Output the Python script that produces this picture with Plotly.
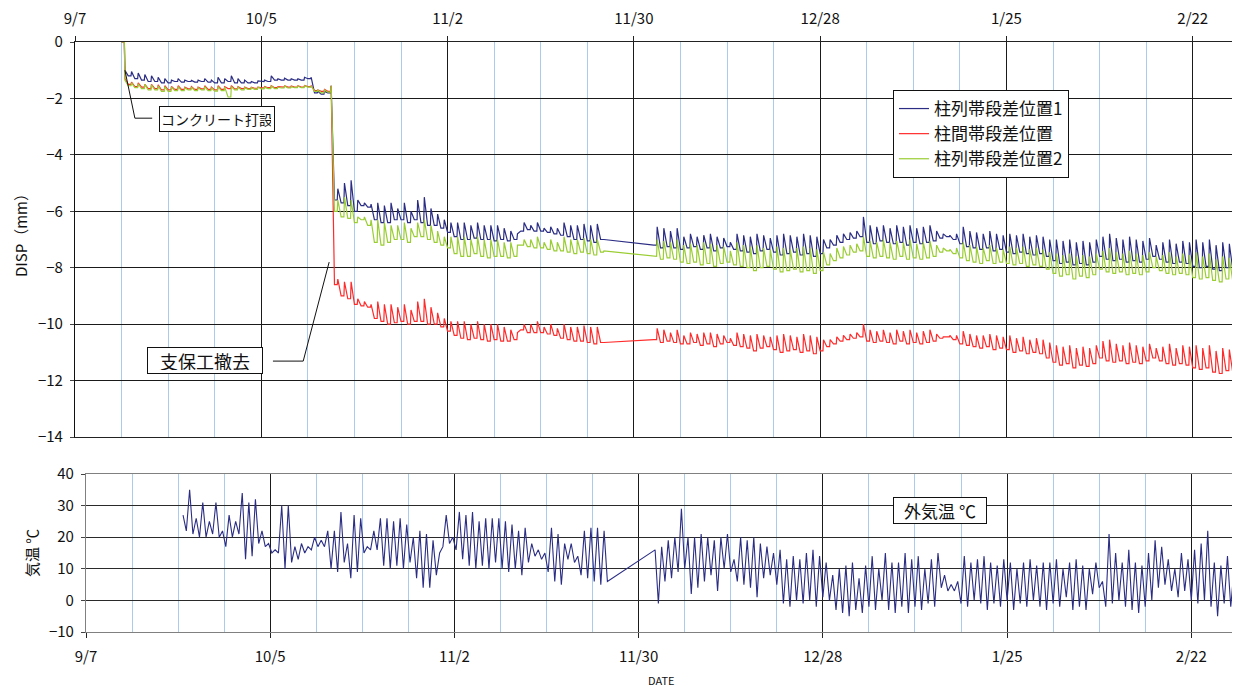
import pandas as pd
import plotly.graph_objects as go

START = pd.Timestamp("2003-09-07")
END = START + pd.Timedelta(days=175.1)
TICK_LABELS = ["9/7", "10/5", "11/2", "11/30", "12/28", "1/25", "2/22"]

NAMES = ["柱列帯段差位置1", "柱間帯段差位置", "柱列帯段差位置2"]
COLORS = ["#2B2D84", "#FF2A2A", "#9ACD32"]

# ---- displacement (mm), 12-hour samples: daily base, daily peak, ... ----
DISP_A_START = "2003-09-14 00:00"
DISP_B_START = "2003-12-03 00:00"

disp1_a = [0.0, -1.0, -1.2, -1.05, -1.3, -1.1, -1.35, -1.15, -1.4, -1.2, -1.4, -1.25, -1.45, -1.3, -1.45, -1.35,
           -1.4, -1.3, -1.42, -1.35, -1.4, -1.36, -1.42, -1.35, -1.4, -1.3, -1.42, -1.35, -1.45, -1.25, -1.45, -1.3,
           -1.4, -1.2, -1.45, -1.3, -1.45, -1.35, -1.45, -1.4, -1.45, -1.38, -1.4, -1.35, -1.4, -1.2, -1.35, -1.3,
           -1.35, -1.28, -1.35, -1.3, -1.35, -1.3, -1.35, -1.25, -1.3, -1.25, -1.8, -1.75, -1.85, -1.75, -1.8, -1.55,
           -5.6, -5.2, -5.7, -5.0, -5.8, -4.9, -6.0, -5.6, -5.8, -5.7, -5.85, -5.75, -6.3, -5.7, -6.4, -5.8,
           -6.4, -5.7, -6.3, -5.9, -6.3, -5.7, -6.4, -6.0, -6.3, -5.6, -6.4, -5.5, -6.5, -5.9, -6.5, -6.1,
           -6.6, -6.3, -6.75, -6.4, -6.9, -6.4, -7.0, -6.4, -7.0, -6.5, -6.95, -6.4, -7.0, -6.5, -7.0, -6.5,
           -7.05, -6.5, -7.0, -6.6, -7.05, -6.7, -7.0, -6.8, -6.7, -6.4, -6.65, -6.5, -6.7, -6.4, -6.7, -6.6,
           -6.75, -6.55, -6.8, -6.6, -6.85, -6.4, -6.9, -6.5, -7.0, -6.5, -7.0, -6.45, -7.05, -6.5, -7.1, -6.45,
           -7.0, -7.0]
disp1_b = [-7.2, -6.55, -7.3, -6.6, -7.25, -6.7, -7.3, -6.6, -7.35, -6.9, -7.3, -6.8, -7.25, -6.9, -7.35, -6.85,
           -7.3, -6.8, -7.4, -6.9, -7.3, -6.95, -7.25, -7.1, -7.35, -6.8, -7.4, -6.85, -7.45, -6.9, -7.5, -6.8,
           -7.4, -6.85, -7.35, -6.95, -7.45, -6.85, -7.55, -6.8, -7.5, -6.85, -7.45, -6.9, -7.55, -6.8, -7.5, -6.85,
           -7.6, -6.9, -7.5, -7.0, -7.3, -7.0, -7.2, -6.85, -7.1, -6.8, -7.0, -6.75, -6.95, -6.7, -6.9, -6.2,
           -7.1, -6.5, -7.15, -6.55, -7.05, -6.5, -7.1, -6.6, -7.15, -6.5, -7.1, -6.55, -7.2, -6.5, -7.1, -6.6,
           -7.15, -6.55, -7.1, -6.5, -7.05, -6.7, -6.95, -6.8, -6.9, -6.85, -7.0, -6.8, -7.15, -6.55, -7.25, -6.7,
           -7.3, -6.75, -7.35, -6.8, -7.3, -6.7, -7.4, -6.8, -7.35, -6.85, -7.45, -6.8, -7.5, -6.85, -7.45, -6.8,
           -7.5, -6.9, -7.55, -6.85, -7.5, -6.9, -7.6, -7.0, -7.75, -7.0, -7.85, -7.05, -7.8, -7.0, -7.9, -7.1,
           -7.85, -7.05, -7.9, -7.1, -7.8, -7.0, -7.6, -6.9, -7.7, -6.8, -7.75, -6.95, -7.7, -7.0, -7.8, -6.9,
           -7.75, -7.0, -7.8, -7.05, -7.7, -6.95, -7.6, -7.2, -7.7, -7.1, -7.8, -7.0, -7.85, -7.15, -7.8, -7.05,
           -7.85, -7.1, -7.95, -7.0, -8.0, -7.1, -7.95, -7.0, -8.05, -7.2, -8.1, -7.1, -8.0, -7.15, -8.05, -7.1,
           -7.95, -7.2]

disp2_a = [0.0, -1.3, -1.5, -1.42, -1.58, -1.45, -1.6, -1.5, -1.65, -1.5, -1.65, -1.52, -1.7, -1.55, -1.7, -1.58,
           -1.68, -1.55, -1.68, -1.6, -1.66, -1.58, -1.68, -1.6, -1.66, -1.55, -1.68, -1.6, -1.7, -1.55, -1.68, -1.58,
           -1.65, -1.55, -1.66, -1.58, -1.65, -1.6, -1.65, -1.6, -1.64, -1.6, -1.63, -1.58, -1.62, -1.55, -1.62, -1.58,
           -1.6, -1.55, -1.6, -1.56, -1.6, -1.55, -1.6, -1.54, -1.58, -1.55, -1.72, -1.7, -1.75, -1.68, -1.75, -1.55,
           -8.6, -8.4, -9.0, -8.5, -9.1, -8.5, -9.3, -9.1, -9.35, -9.2, -9.4, -9.3, -9.8, -9.2, -9.9, -9.3,
           -10.0, -9.3, -9.95, -9.4, -9.9, -9.3, -10.0, -9.5, -9.9, -9.2, -9.9, -9.1, -10.0, -9.4, -10.0, -9.6,
           -10.1, -9.8, -10.25, -9.9, -10.4, -9.9, -10.5, -9.9, -10.55, -10.0, -10.5, -9.9, -10.55, -10.0, -10.6, -10.0,
           -10.55, -10.0, -10.6, -10.1, -10.6, -10.2, -10.55, -10.3, -10.2, -10.0, -10.3, -10.0, -10.3, -9.9, -10.3, -10.1,
           -10.35, -10.0, -10.4, -10.15, -10.5, -10.0, -10.55, -10.1, -10.6, -10.1, -10.6, -10.05, -10.65, -10.1, -10.7, -10.1,
           -10.65, -10.65]
disp2_b = [-10.55, -10.15, -10.65, -10.2, -10.6, -10.3, -10.65, -10.2, -10.7, -10.4, -10.7, -10.3, -10.65, -10.35, -10.75, -10.3,
           -10.7, -10.3, -10.8, -10.35, -10.7, -10.4, -10.65, -10.5, -10.75, -10.3, -10.8, -10.35, -10.85, -10.4, -10.95, -10.35,
           -10.85, -10.4, -10.8, -10.45, -10.9, -10.4, -11.0, -10.35, -10.95, -10.4, -10.9, -10.45, -11.0, -10.35, -10.95, -10.4,
           -11.05, -10.45, -10.95, -10.55, -10.8, -10.55, -10.7, -10.45, -10.6, -10.4, -10.55, -10.35, -10.5, -10.3, -10.45, -10.0,
           -10.6, -10.2, -10.65, -10.25, -10.6, -10.2, -10.65, -10.3, -10.7, -10.2, -10.6, -10.25, -10.7, -10.2, -10.65, -10.3,
           -10.7, -10.25, -10.65, -10.2, -10.6, -10.35, -10.5, -10.45, -10.45, -10.4, -10.55, -10.4, -10.7, -10.25, -10.75, -10.35,
           -10.8, -10.4, -10.85, -10.4, -10.8, -10.35, -10.9, -10.4, -10.85, -10.45, -10.9, -10.4, -11.0, -10.5, -10.95, -10.45,
           -11.05, -10.55, -11.0, -10.5, -11.05, -10.55, -11.2, -10.65, -11.35, -10.75, -11.45, -10.8, -11.4, -10.75, -11.55, -10.85,
           -11.45, -10.8, -11.5, -10.85, -11.4, -10.75, -11.2, -10.6, -11.3, -10.55, -11.35, -10.7, -11.3, -10.75, -11.4, -10.65,
           -11.35, -10.75, -11.4, -10.8, -11.3, -10.7, -11.2, -10.85, -11.3, -10.8, -11.4, -10.7, -11.45, -10.85, -11.4, -10.75,
           -11.45, -10.8, -11.55, -10.75, -11.6, -10.85, -11.55, -10.75, -11.7, -10.95, -11.75, -10.85, -11.65, -10.9, -11.7, -10.85,
           -11.6, -10.95]

disp3_a = [0.0, -1.35, -1.55, -1.45, -1.62, -1.48, -1.65, -1.5, -1.7, -1.52, -1.7, -1.55, -1.75, -1.58, -1.75, -1.6,
           -1.72, -1.58, -1.72, -1.62, -1.7, -1.6, -1.72, -1.62, -1.7, -1.58, -1.72, -1.62, -1.74, -1.58, -1.72, -1.6,
           -1.95, -1.58, -1.7, -1.6, -1.7, -1.62, -1.68, -1.62, -1.68, -1.6, -1.66, -1.6, -1.65, -1.56, -1.65, -1.6,
           -1.63, -1.56, -1.63, -1.58, -1.62, -1.56, -1.62, -1.55, -1.6, -1.56, -1.75, -1.7, -1.8, -1.7, -1.78, -1.55,
           -6.0, -5.6, -6.2, -5.5, -6.25, -5.6, -6.4, -6.2, -6.3, -6.2, -6.5, -6.3, -7.1, -6.3, -7.2, -6.4,
           -7.1, -6.5, -7.0, -6.5, -7.0, -6.4, -7.1, -6.6, -6.9, -6.4, -6.9, -6.3, -7.0, -6.5, -7.1, -6.7,
           -7.2, -6.9, -7.3, -6.9, -7.5, -6.9, -7.6, -6.9, -7.6, -7.0, -7.5, -6.9, -7.6, -7.0, -7.65, -7.0,
           -7.6, -7.0, -7.6, -7.1, -7.65, -7.1, -7.6, -7.2, -7.2, -7.0, -7.25, -7.0, -7.3, -6.9, -7.3, -7.1,
           -7.35, -7.0, -7.4, -7.1, -7.4, -6.9, -7.45, -7.0, -7.5, -7.0, -7.45, -6.95, -7.5, -7.0, -7.55, -7.0,
           -7.45, -7.4]
disp3_b = [-7.6, -7.0, -7.7, -7.05, -7.65, -7.1, -7.7, -7.0, -7.8, -7.2, -7.85, -7.15, -7.8, -7.2, -7.9, -7.1,
           -7.85, -7.15, -7.95, -7.2, -7.85, -7.25, -7.8, -7.4, -7.9, -7.1, -7.95, -7.2, -8.0, -7.25, -8.1, -7.2,
           -8.0, -7.3, -7.95, -7.35, -8.05, -7.25, -8.15, -7.3, -8.1, -7.35, -8.05, -7.3, -8.15, -7.25, -8.1, -7.3,
           -8.2, -7.35, -8.1, -7.45, -7.9, -7.5, -7.75, -7.3, -7.65, -7.25, -7.55, -7.2, -7.45, -7.15, -7.4, -6.9,
           -7.6, -7.05, -7.65, -7.1, -7.6, -7.0, -7.65, -7.1, -7.7, -7.05, -7.6, -7.1, -7.7, -7.0, -7.65, -7.15,
           -7.7, -7.1, -7.65, -7.05, -7.6, -7.2, -7.45, -7.3, -7.4, -7.35, -7.5, -7.3, -7.65, -7.1, -7.75, -7.2,
           -7.8, -7.25, -7.85, -7.3, -7.75, -7.2, -7.85, -7.3, -7.8, -7.35, -7.85, -7.25, -7.9, -7.3, -7.85, -7.25,
           -7.95, -7.35, -7.9, -7.3, -7.95, -7.35, -8.05, -7.45, -8.2, -7.5, -8.3, -7.55, -8.25, -7.5, -8.4, -7.6,
           -8.3, -7.55, -8.35, -7.6, -8.25, -7.5, -8.05, -7.4, -8.15, -7.3, -8.2, -7.45, -8.15, -7.5, -8.25, -7.4,
           -8.2, -7.5, -8.25, -7.55, -8.15, -7.45, -8.0, -7.6, -8.1, -7.55, -8.2, -7.45, -8.25, -7.6, -8.2, -7.5,
           -8.25, -7.55, -8.35, -7.45, -8.4, -7.6, -8.35, -7.5, -8.45, -7.7, -8.5, -7.6, -8.4, -7.65, -8.45, -7.6,
           -8.35, -7.7]

# ---- outside air temperature (deg C), 12-hour samples ----
TEMP_A_START = "2003-09-21 18:00"
TEMP_B_START = "2003-12-02 12:00"
temp_a = [27, 22, 35, 21, 26, 20, 31, 20, 25, 21, 31, 20, 22, 17, 27, 20, 25, 21, 34, 13, 31, 14, 32, 18, 22,
          17, 18, 15, 16, 15, 30, 10, 30, 12, 17, 13, 18, 15, 17, 16, 20, 17, 19, 17, 22, 10, 22, 9, 28, 12, 18,
          7, 27, 9, 26, 15, 17, 16, 22, 16, 26, 11, 26, 10, 25, 11, 26, 10, 24, 12, 20, 7, 22, 4, 21, 4, 19, 8, 15,
          17, 27, 18, 20, 16, 28, 13, 27, 11, 28, 10, 25, 11, 26, 10, 26, 12, 26, 10, 25, 9, 24, 10, 22, 8, 23,
          12, 18, 14, 16, 13, 15, 9, 23, 6, 21, 5, 18, 13, 18, 12, 14, 8, 22, 7, 23, 6, 23, 5, 22, 6]
temp_b = [16, -1, 17, 6, 19, 7, 20, 9, 29, 10, 20, 2, 20, 4, 21, 6, 20, 8, 19, 3, 20, 10, 21, 9, 13, 6, 20, 5,
          19, 4, 20, 1, 18, 7, 17, 8, 15, 5, 16, -1, 13, -2, 14, 0, 13, -1, 15, 0, 16, -2, 14, 1, 12, 0, 8, -3, 10,
          -4, 11, -5, 12, -3, 7, -4, 11, -2, 14, -3, 10, 0, 15, -3, 12, -4, 12, -2, 15, -4, 13, -2, 14, -3, 10, -1,
          13, -2, 15, 4, 8, 3, 5, 3, 6, -1, 14, -2, 12, 0, 13, -1, 14, -3, 12, -1, 11, -2, 13, 0, 12, -3, 10, -1,
          12, -2, 13, 0, 11, -2, 12, -3, 12, -1, 13, -2, 10, 1, 12, -3, 13, -2, 11, -3, 10, 2, 12, 4, 6, -2, 21, -1,
          15, 0, 12, -2, 16, -3, 12, -4, 11, -2, 15, 0, 19, 4, 17, 5, 13, 3, 10, 1, 15, 3, 13, 0, 16, -1, 18, 0, 22,
          -2, 12, -5, 11, -1, 14, -2, 10, 0, 16]


def times(start, n):
    return list(pd.date_range(start, periods=n, freq="12h"))


def pulse_xy(start, vals):
    """Each daily base value is held until shortly before the daily peak."""
    xs, ys = [], []
    for t, v, i in zip(times(start, len(vals)), vals, range(len(vals))):
        xs.append(t)
        ys.append(v)
        if i % 2 == 0:
            xs.append(t + pd.Timedelta(hours=10))
            ys.append(v)
    return xs, ys


def day(d):
    return START + pd.Timedelta(days=d)


W, H = 1240, 686
OFF = 8  # page body margin of the browser


def px(x):
    return (x - OFF) / W


def py(y):
    return 1 - (y - OFF) / H


fig = go.Figure()
disp_sets = [(disp1_a, disp1_b), (disp2_a, disp2_b), (disp3_a, disp3_b)]
for (a, b), name, col in zip(disp_sets, NAMES, COLORS):
    xa, ya = pulse_xy(DISP_A_START, a)
    xb, yb = pulse_xy(DISP_B_START, b)
    fig.add_trace(go.Scatter(
        x=xa + xb, y=ya + yb, mode="lines", name=name,
        line=dict(color=col, width=1.2), xaxis="x", yaxis="y"))

fig.add_trace(go.Scatter(
    x=times(TEMP_A_START, len(temp_a)) + times(TEMP_B_START, len(temp_b)), y=temp_a + temp_b,
    mode="lines", showlegend=False, line=dict(color="#2B2D84", width=1.1),
    xaxis="x2", yaxis="y2"))

FONT = "Noto Sans CJK JP"
tickvals = [day(28 * i) for i in range(len(TICK_LABELS))]
minor = dict(tick0=START, dtick=7 * 86400000, showgrid=True, gridcolor="#A9CBEE", gridwidth=1, ticks="")

common_x = dict(type="date", range=[START, END], tickvals=tickvals, ticktext=TICK_LABELS,
                showgrid=True, gridcolor="#1A1A1A", gridwidth=1, minor=minor, automargin=False,
                tickfont=dict(size=15, color="#111", family=FONT), ticks="outside", ticklen=5,
                tickcolor="#222", zeroline=False)

fig.update_layout(
    width=W, height=H, margin=dict(l=0, r=0, t=0, b=0, autoexpand=False),
    paper_bgcolor="white", plot_bgcolor="white",
    font=dict(family=FONT, color="#111"),
    xaxis=dict(common_x, domain=[px(75), px(1240)], anchor="y", side="top",
               showline=True, mirror=True, linecolor="#222", linewidth=1, ticklabelstandoff=6),
    yaxis=dict(domain=[py(437), py(42)], range=[-14, 0], dtick=2, tick0=0, automargin=False,
               showgrid=True, gridcolor="#1A1A1A", gridwidth=1, zeroline=False,
               showline=True, linecolor="#111", linewidth=1.2, ticks="outside", ticklen=4,
               ticklabelstandoff=4, tickfont=dict(size=15, family=FONT), anchor="x"),
    xaxis2=dict(common_x, domain=[px(86), px(1238)], anchor="y2", side="bottom",
                showline=True, mirror=True, linecolor="#808080", linewidth=1.2,
                ticklabelstandoff=6),
    yaxis2=dict(domain=[py(632), py(474)], range=[-10, 40], dtick=10, tick0=0, automargin=False,
                showgrid=True, gridcolor="#2A2A2A", gridwidth=1, zeroline=False,
                showline=True, mirror=True, linecolor="#808080", linewidth=1.2,
                ticks="outside", ticklen=4, ticklabelstandoff=4,
                tickfont=dict(size=15, family=FONT), anchor="x2"),
    legend=dict(x=px(893), y=py(90), xanchor="left", yanchor="top",
                bgcolor="white", bordercolor="#111", borderwidth=1,
                font=dict(size=17, family=FONT), tracegroupgap=0, itemwidth=30),
    showlegend=True,
)

box = dict(showarrow=False, bgcolor="white", bordercolor="#111", borderwidth=1, borderpad=3,
           xanchor="center", yanchor="middle")
fig.add_annotation(x=day(21.3), y=-2.73, xref="x", yref="y", text="コンクリート打設",
                   width=108, height=18, font=dict(size=14, family=FONT), **box)
fig.add_annotation(x=day(19.5), y=-11.29, xref="x", yref="y", text="支保工撤去",
                   width=108, height=19, font=dict(size=18, family=FONT), **box)
fig.add_annotation(x=day(129.8), y=28.5, xref="x2", yref="y2", text="外気温 ℃",
                   width=86, height=19, font=dict(size=17, family=FONT), **box)

# leader lines
lead = dict(color="#111", width=1)
fig.add_shape(type="line", xref="x", yref="y", x0=day(7.5), y0=-1.0, x1=day(9.0), y1=-2.7, line=lead)
fig.add_shape(type="line", xref="x", yref="y", x0=day(9.0), y0=-2.7, x1=day(11.6), y1=-2.7, line=lead)
fig.add_shape(type="line", xref="x", yref="y", x0=day(29.75), y0=-11.31, x1=day(34.3), y1=-11.31, line=lead)
fig.add_shape(type="line", xref="x", yref="y", x0=day(34.3), y0=-11.31, x1=day(38.2), y1=-7.8, line=lead)

# axis titles
label = dict(xref="paper", yref="paper", showarrow=False, xanchor="center", yanchor="middle")
fig.add_annotation(x=px(21), y=py(232), text="DISP（mm）", textangle=-90,
                   font=dict(size=15, family=FONT), **label)
fig.add_annotation(x=px(31), y=py(553), text="気温 ℃", textangle=-90,
                   font=dict(size=15, family=FONT), **label)
fig.add_annotation(x=px(661), y=py(680), text="DATE", font=dict(size=11, family=FONT), **label)

fig.write_html("out.html")
